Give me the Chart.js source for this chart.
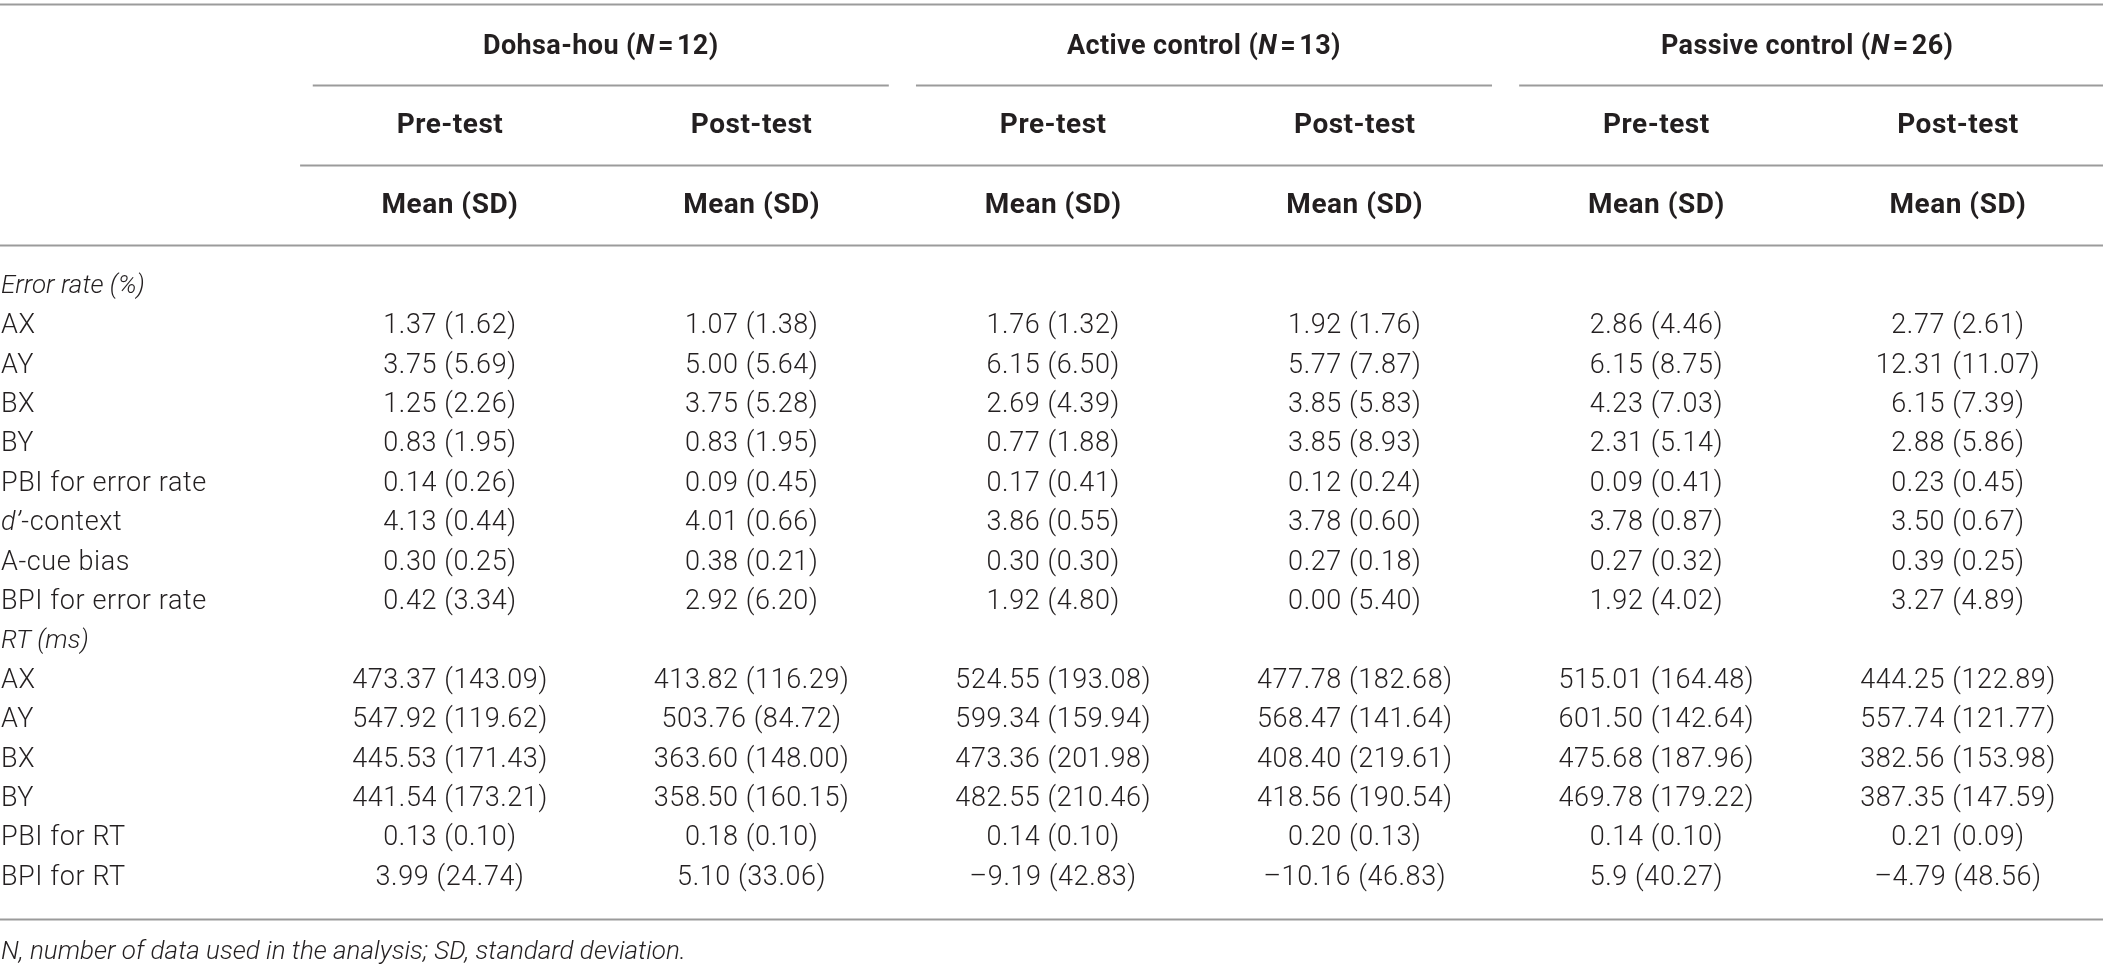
<!DOCTYPE html>
<html lang="en">

<head>
    <meta charset="UTF-8">
    <meta name="viewport" content="width=device-width, initial-scale=1.0">
    <title>Error rate and RT table</title>
    <script src="https://cdn.jsdelivr.net/npm/chart.js"></script>
    <style>
        html, body { margin: 0; padding: 0; background: #fff; }
        #wrap { width: 2103px; height: 971px; position: relative; }
    </style>
</head>

<body>
    <div id="wrap"><canvas id="tableChart"></canvas></div>

    <script>
        // group headers
        const groups = ['Dohsa-hou', 'Active control', 'Passive control'];
        const groupN = [12, 13, 26];
        const phases = ['Pre-test', 'Post-test'];
        const statLabel = 'Mean (SD)';

        // row labels (null cells = section heading rows)
        const rowLabels = ['Error rate (%)', 'AX', 'AY', 'BX', 'BY', 'PBI for error rate', 'd\u2019-context',
            'A-cue bias', 'BPI for error rate', 'RT (ms)', 'AX', 'AY', 'BX', 'BY', 'PBI for RT', 'BPI for RT'];
        const sectionRows = [0, 9];

        const dohsaPre = [null, '1.37 (1.62)', '3.75 (5.69)', '1.25 (2.26)', '0.83 (1.95)', '0.14 (0.26)', '4.13 (0.44)',
            '0.30 (0.25)', '0.42 (3.34)', null, '473.37 (143.09)', '547.92 (119.62)', '445.53 (171.43)',
            '441.54 (173.21)', '0.13 (0.10)', '3.99 (24.74)'];
        const dohsaPost = [null, '1.07 (1.38)', '5.00 (5.64)', '3.75 (5.28)', '0.83 (1.95)', '0.09 (0.45)', '4.01 (0.66)',
            '0.38 (0.21)', '2.92 (6.20)', null, '413.82 (116.29)', '503.76 (84.72)', '363.60 (148.00)',
            '358.50 (160.15)', '0.18 (0.10)', '5.10 (33.06)'];
        const activePre = [null, '1.76 (1.32)', '6.15 (6.50)', '2.69 (4.39)', '0.77 (1.88)', '0.17 (0.41)', '3.86 (0.55)',
            '0.30 (0.30)', '1.92 (4.80)', null, '524.55 (193.08)', '599.34 (159.94)', '473.36 (201.98)',
            '482.55 (210.46)', '0.14 (0.10)', '\u20139.19 (42.83)'];
        const activePost = [null, '1.92 (1.76)', '5.77 (7.87)', '3.85 (5.83)', '3.85 (8.93)', '0.12 (0.24)', '3.78 (0.60)',
            '0.27 (0.18)', '0.00 (5.40)', null, '477.78 (182.68)', '568.47 (141.64)', '408.40 (219.61)',
            '418.56 (190.54)', '0.20 (0.13)', '\u201310.16 (46.83)'];
        const passivePre = [null, '2.86 (4.46)', '6.15 (8.75)', '4.23 (7.03)', '2.31 (5.14)', '0.09 (0.41)', '3.78 (0.87)',
            '0.27 (0.32)', '1.92 (4.02)', null, '515.01 (164.48)', '601.50 (142.64)', '475.68 (187.96)',
            '469.78 (179.22)', '0.14 (0.10)', '5.9 (40.27)'];
        const passivePost = [null, '2.77 (2.61)', '12.31 (11.07)', '6.15 (7.39)', '2.88 (5.86)', '0.23 (0.45)', '3.50 (0.67)',
            '0.39 (0.25)', '3.27 (4.89)', null, '444.25 (122.89)', '557.74 (121.77)', '382.56 (153.98)',
            '387.35 (147.59)', '0.21 (0.09)', '\u20134.79 (48.56)'];

        const footnote = 'N, number of data used in the analysis; SD, standard deviation.';

        const columns = [dohsaPre, dohsaPost, activePre, activePost, passivePre, passivePost];

        const textColor = '#231f20';
        const ruleColor = '#9b9b9b';
        const bodyFont = { font: '300 27px Roboto, "Liberation Sans", sans-serif', spacing: '0.6px' };
        const italicFont = { font: 'italic 300 26px Roboto, "Liberation Sans", sans-serif', spacing: '0px' };
        const labelItalic = { font: 'italic 300 27px Roboto, "Liberation Sans", sans-serif', spacing: '0.6px' };
        const boldFont = { font: 'bold 28px Roboto, "Liberation Sans", sans-serif', spacing: '0.5px' };
        const groupFont = { font: 'bold 27px Roboto, "Liberation Sans", sans-serif', spacing: '0.4px' };
        const groupItalic = { font: 'italic bold 27px Roboto, "Liberation Sans", sans-serif', spacing: '0.4px' };

        // scale values for header rows / rules (row units, body rows start at 0)
        const labelX = -1.489;
        const headerY = { group: -6.09, phase: -4.09, stat: -2.06 };
        const ruleY = { top: -7.17, group: -5.13, phase: -3.1, header: -1.07, bottom: 16.03 };
        const footY = 16.88;

        // one invisible point per cell, the plugin writes the text at each point
        const datasets = columns.map((col, c) => ({
            label: 'col' + c,
            data: col.map((v, r) => ({ x: c, y: r, text: v })),
            pointRadius: 0
        }));
        datasets.push({
            label: 'labels',
            data: rowLabels.map((v, r) => ({ x: labelX, y: r, text: v })),
            pointRadius: 0
        });

        function drawPieces(ctx, pieces, cx, y, align) {
            let total = 0;
            pieces.forEach(p => {
                ctx.font = p.f.font;
                ctx.letterSpacing = p.f.spacing;
                total += ctx.measureText(p.text).width;
            });
            let x = align === 'center' ? cx - total / 2 : cx;
            ctx.textAlign = 'left';
            pieces.forEach(p => {
                ctx.font = p.f.font;
                ctx.letterSpacing = p.f.spacing;
                ctx.fillText(p.text, x, y);
                x += ctx.measureText(p.text).width;
            });
            ctx.letterSpacing = '0px';
        }

        const tablePlugin = {
            id: 'tableText',
            afterDatasetsDraw(chart) {
                const ctx = chart.ctx;
                const xs = chart.scales.x, ys = chart.scales.y;
                ctx.save();
                ctx.fillStyle = textColor;
                ctx.textBaseline = 'middle';

                // cells
                chart.data.datasets.forEach((ds, di) => {
                    const meta = chart.getDatasetMeta(di);
                    meta.data.forEach((pt, r) => {
                        const t = ds.data[r].text;
                        if (t === null) return;
                        if (ds.label === 'labels') {
                            if (sectionRows.includes(r)) {
                                drawPieces(ctx, [{ text: t, f: italicFont }], pt.x, pt.y, 'left');
                            } else if (t.startsWith('d\u2019')) {
                                drawPieces(ctx, [{ text: 'd\u2019', f: labelItalic }, { text: t.slice(2), f: bodyFont }], pt.x, pt.y, 'left');
                            } else {
                                drawPieces(ctx, [{ text: t, f: bodyFont }], pt.x, pt.y, 'left');
                            }
                        } else {
                            drawPieces(ctx, [{ text: t, f: bodyFont }], pt.x, pt.y, 'center');
                        }
                    });
                });

                // header rows
                groups.forEach((g, i) => {
                    const cx = xs.getPixelForValue(2 * i + 0.5);
                    drawPieces(ctx, [
                        { text: g + ' (', f: groupFont },
                        { text: 'N', f: groupItalic },
                        { text: '\u200a=\u200a' + groupN[i] + ')', f: groupFont }
                    ], cx, ys.getPixelForValue(headerY.group), 'center');
                });
                columns.forEach((col, c) => {
                    const cx = xs.getPixelForValue(c);
                    drawPieces(ctx, [{ text: phases[c % 2], f: boldFont }], cx, ys.getPixelForValue(headerY.phase), 'center');
                    drawPieces(ctx, [{ text: statLabel, f: boldFont }], cx, ys.getPixelForValue(headerY.stat), 'center');
                });

                // footnote
                drawPieces(ctx, [{ text: footnote, f: italicFont }], xs.getPixelForValue(labelX), ys.getPixelForValue(footY), 'left');

                // rules
                ctx.strokeStyle = ruleColor;
                ctx.lineWidth = 2;
                const rule = (x0, x1, yv) => {
                    const y = Math.round(ys.getPixelForValue(yv)) + 0.5;
                    ctx.beginPath();
                    ctx.moveTo(xs.getPixelForValue(x0), y);
                    ctx.lineTo(xs.getPixelForValue(x1), y);
                    ctx.stroke();
                };
                rule(xs.min, xs.max, ruleY.top);
                groups.forEach((g, i) => {
                    const c = 2 * i + 0.5;
                    rule(c - 0.955, i === groups.length - 1 ? xs.max : c + 0.955, ruleY.group);
                });
                rule(-0.497, xs.max, ruleY.phase);
                rule(xs.min, xs.max, ruleY.header);
                rule(xs.min, xs.max, ruleY.bottom);
                ctx.restore();
            }
        };

        const ctx = document.getElementById('tableChart').getContext('2d');
        new Chart(ctx, {
            type: 'scatter',
            data: { datasets: datasets },
            options: {
                responsive: true,
                maintainAspectRatio: false,
                animation: false,
                layout: { padding: 0 },
                plugins: { legend: { display: false }, tooltip: { enabled: false } },
                scales: {
                    x: { type: 'linear', display: false, min: -1.492, max: 5.4808 },
                    y: { type: 'linear', display: false, reverse: true, min: -7.284, max: 17.36 }
                }
            },
            plugins: [tablePlugin]
        });
    </script>
</body>

</html>
